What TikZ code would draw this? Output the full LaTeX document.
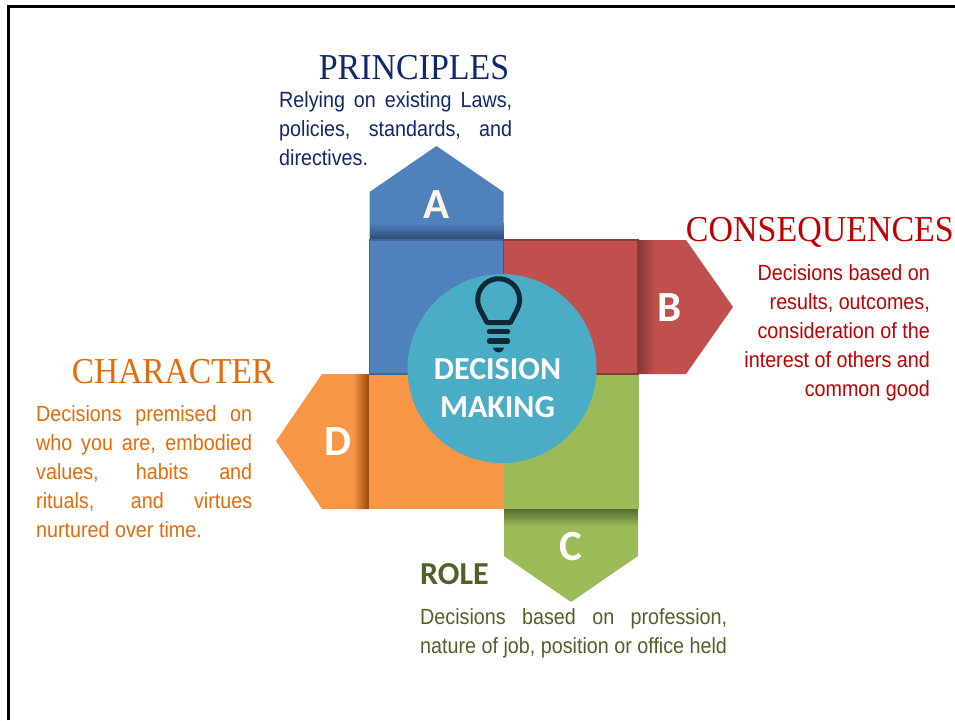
\documentclass[tikz,border=0pt]{standalone}
\usepackage{fontspec}
\setmainfont{Liberation Sans}
\newfontfamily\bodyfont[FakeStretch=0.897]{Liberation Sans}
\newfontfamily\headfont[FakeStretch=0.93]{Liberation Serif}
\newfontfamily\capfont{Carlito}
\definecolor{blueF}{HTML}{4F81BD}
\definecolor{blueD}{HTML}{2C4A74}
\definecolor{blueL}{HTML}{3F6797}
\definecolor{redF}{HTML}{C0504D}
\definecolor{redD}{HTML}{843735}
\definecolor{redL}{HTML}{8C3B39}
\definecolor{greenF}{HTML}{9BBB59}
\definecolor{greenD}{HTML}{566B30}
\definecolor{orangeF}{HTML}{F79646}
\definecolor{orangeD}{HTML}{98490A}
\definecolor{hubF}{HTML}{4BACC6}
\definecolor{bulbC}{HTML}{0F2A36}
\definecolor{navyT}{HTML}{10296B}
\definecolor{crimT}{HTML}{C00000}
\definecolor{orangT}{HTML}{E36C0A}
\definecolor{oliveT}{HTML}{4F6228}
\newcommand{\fl}[2]{\makebox[#1pt][s]{#2}}
\tikzset{
  heading/.style={font=\headfont\fontsize{36.5}{36.5}\selectfont,inner sep=0pt,anchor=base east},
  bodytext/.style={font=\bodyfont\fontsize{22}{29}\selectfont,inner sep=0pt},
  tabletter/.style={font=\capfont\bfseries\fontsize{43}{43}\selectfont,text=#1,inner sep=0pt},
}
\begin{document}
\begin{tikzpicture}[x=1pt,y=-1pt]
\useasboundingbox (0,0) rectangle (955,720);
\fill[white] (0,0) rectangle (955,720);
\draw[black,line width=3pt] (8,720) -- (8,6) -- (955,6);
% tabs
\fill[blueF] (369.5,240) -- (369.5,192) -- (436.5,146) -- (503.5,192) -- (503.5,240) -- cycle;
\foreach \i in {0,...,16}{
  \pgfmathsetmacro\p{100*\i/16}
  \fill[blueD!\p!blueF] (369.5,223+\i) rectangle (503.5,240);
}
\fill[redF] (638,240) -- (686,240) -- (733,307) -- (686,374) -- (638,374) -- cycle;
\foreach \i in {0,...,17}{
  \pgfmathsetmacro\p{100*\i/17}
  \fill[redD!\p!redF] (638,240) rectangle (656-\i,374);
}
\fill[greenF] (504,509) -- (638,509) -- (638,556) -- (571,602) -- (504,556) -- cycle;
\foreach \i in {0,...,17}{
  \pgfmathsetmacro\p{100*\i/17}
  \fill[greenD!\p!greenF] (504,509) rectangle (638,527-\i);
}
\fill[orangeF] (369,374) -- (322,374) -- (276,441) -- (322,509) -- (369,509) -- cycle;
\foreach \i in {0,...,16}{
  \pgfmathsetmacro\p{100*\i/16}
  \fill[orangeD!\p!orangeF] (353+\i,374) rectangle (369,509);
}
% squares
\fill[orangeF] (369,374) rectangle (504,509);
\fill[greenF] (504,374) rectangle (639,509);
\draw[blueL,fill=blueF,line width=1.5pt] (369.5,240) rectangle (503.5,374);
\draw[redL,fill=redF,line width=1.5pt] (503.5,240) rectangle (638,374);
% hub
\node[circle,fill=hubF,minimum size=189pt,inner sep=0pt] (hub) at (502,368.5) {};
% bulb
\draw[bulbC,line width=5pt,line join=round] (480.5,310.2) arc[start angle=210,end angle=-30,radius=21pt] -- (510.5,322.5) -- (487,322.5) -- cycle;
\draw[bulbC,line width=5.5pt,line cap=round] (489.5,331.7) -- (507.5,331.7);
\draw[bulbC,line width=5.5pt,line cap=round] (489.5,341) -- (507.5,341);
\fill[bulbC] (493,347.7) -- (504,347.7) .. controls (503,351) and (501,352.5) .. (498.5,352.5) .. controls (496,352.5) and (494,351) .. (493,347.7) -- cycle;
% hub text
\node[font=\capfont\bfseries\fontsize{32}{38}\selectfont,text=white,align=center,inner sep=0pt] (hubtext) at (497.5,388) {DECISION\\MAKING};
% letters
\node[tabletter=white!92!orange] (la) at (436.5,205) {A};
\node[tabletter=white] (lb) at (669.5,308) {B};
\node[tabletter=white] (lc) at (571,546.5) {C};
\node[tabletter=white] (ld) at (338,442) {D};
% headings
\node[heading,text=navyT] (ph) at (509.5,79) {PRINCIPLES};
\node[heading,text=crimT] (ch) at (954,241.5) {CONSEQUENCES};
\node[heading,text=orangT] (oh) at (274.5,383.5) {\scalebox{0.985}[1]{CHARACTER}};
\node[font=\capfont\bfseries\fontsize{32}{32}\selectfont,text=oliveT,inner sep=0pt,anchor=west] (rh) at (420,574.5) {ROLE};
% bodies
\node[bodytext,text=navyT,anchor=north west,align=left] (pb) at (279,91) {\fl{233}{Relying on existing Laws,}\\\fl{233}{policies, standards, and}\\directives.};
\node[bodytext,text=crimT,anchor=north east,align=right] (cb) at (930,264) {Decisions based on\\results, outcomes,\\consideration of the\\interest of others and\\common good};
\node[bodytext,text=orangT,anchor=north west,align=left] (ob) at (36,405) {\fl{216}{Decisions premised on}\\\fl{216}{who you are, embodied}\\\fl{216}{values, habits and}\\\fl{216}{rituals, and virtues}\\nurtured over time.};
\node[bodytext,text=oliveT,anchor=north west,align=left] (rb) at (420,608) {\fl{307}{Decisions based on profession,}\\nature of job, position or office held};
\end{tikzpicture}
\end{document}
